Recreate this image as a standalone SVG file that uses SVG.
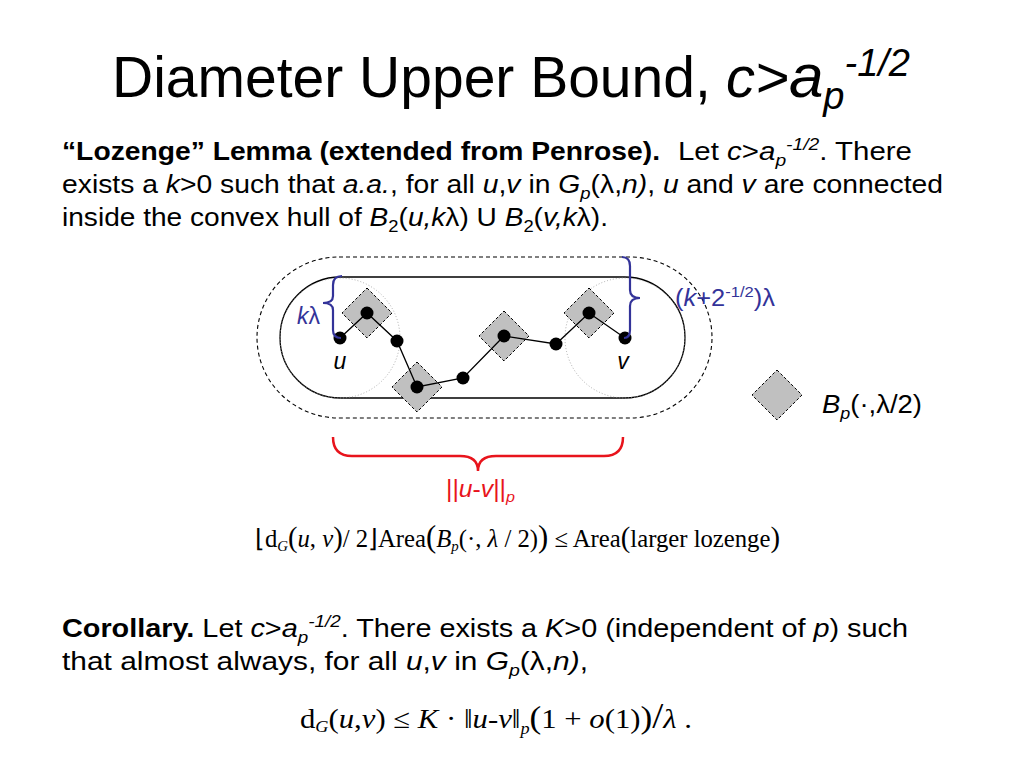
<svg xmlns="http://www.w3.org/2000/svg" width="1024" height="768" viewBox="0 0 1024 768">
<style>
.s{font-family:"Liberation Sans",Arial,sans-serif;fill:#000}
.t{font-family:"Liberation Serif","Times New Roman",serif;fill:#000}
.i{font-style:italic}
.b{font-weight:bold}
.blue{fill:#333399}
.red{fill:#e8141c}
.dot{fill:#000}
.edge{stroke:#000;stroke-width:1.3;fill:none}
.dia{fill:#c0c0c0;stroke:#000;stroke-width:1;stroke-dasharray:3 2}
</style>
<rect width="1024" height="768" fill="#fff"/>

<!-- Title -->
<g id="title">
<text class="s" y="97" font-size="57"><tspan x="112">Diameter Upper Bound,</tspan><tspan x="726" class="i" font-size="58">c&gt;</tspan><tspan class="i" font-size="62">a</tspan><tspan class="i" font-size="38" dy="12">p</tspan><tspan class="i" font-size="38" dy="-33">-1/2</tspan></text>
</g>

<!-- Lemma text -->
<g id="lemma" font-size="26">
<text class="s" x="62" y="160"><tspan class="b" textLength="598" lengthAdjust="spacingAndGlyphs">“Lozenge” Lemma (extended from Penrose).</tspan></text>
<text class="s" x="678" y="160" textLength="234" lengthAdjust="spacingAndGlyphs">Let <tspan class="i">c</tspan>&gt;<tspan class="i">a</tspan><tspan class="i" font-size="17" dy="6">p</tspan><tspan class="i" font-size="17" dy="-16">-1/2</tspan><tspan dy="10">.  There</tspan></text>
<text class="s" x="62" y="193" textLength="881" lengthAdjust="spacingAndGlyphs">exists a <tspan class="i">k</tspan>&gt;0 such that <tspan class="i">a.a.</tspan>, for all <tspan class="i">u</tspan>,<tspan class="i">v</tspan> in <tspan class="i">G</tspan><tspan font-size="17" class="i" dy="6">p</tspan><tspan dy="-6">(λ,</tspan><tspan class="i">n)</tspan>, <tspan class="i">u</tspan> and <tspan class="i">v</tspan> are connected</text>
<text class="s" x="62" y="226" textLength="546" lengthAdjust="spacingAndGlyphs">inside the convex hull of <tspan class="i">B</tspan><tspan font-size="17" dy="6">2</tspan><tspan dy="-6">(</tspan><tspan class="i">u,k</tspan>λ) U <tspan class="i">B</tspan><tspan font-size="17" dy="6">2</tspan><tspan dy="-6">(</tspan><tspan class="i">v,k</tspan>λ).</text>
</g>

<!-- Hulls -->
<g id="outer-hull">
<rect x="257" y="257" width="455" height="161" rx="82" ry="80.5" fill="none" stroke="#000" stroke-width="1.1" stroke-dasharray="4 3"/>
</g>
<g id="inner-hull">
<rect x="280" y="277" width="405" height="121" rx="60.5" ry="60.5" fill="none" stroke="#000" stroke-width="1.3"/>
</g>
<g id="balls">
<circle cx="340" cy="338" r="60" fill="none" stroke="#999" stroke-width="0.8" stroke-dasharray="1 2"/>
<circle cx="625" cy="338" r="60" fill="none" stroke="#999" stroke-width="0.8" stroke-dasharray="1 2"/>
</g>

<!-- Diamonds -->
<g id="lozenges">
<polygon class="dia" points="367,288 392,313 367,338 342,313"/>
<polygon class="dia" points="417,362 442,387 417,412 392,387"/>
<polygon class="dia" points="504,311 529,336 504,361 479,336"/>
<polygon class="dia" points="589,288 614,313 589,338 564,313"/>
</g>

<!-- Connectors -->
<g id="connectors">
<polyline class="edge" points="340,338 367,313 397,341 417,387 463,378 504,336 556,344 589,313 625,338"/>
</g>

<!-- Nodes -->
<g id="node-u"><circle class="dot" cx="340" cy="338" r="6.5"/></g>
<g id="node-1"><circle class="dot" cx="367" cy="313" r="6.5"/></g>
<g id="node-2"><circle class="dot" cx="397" cy="341" r="6.5"/></g>
<g id="node-3"><circle class="dot" cx="417" cy="387" r="6.5"/></g>
<g id="node-4"><circle class="dot" cx="463" cy="378" r="6.5"/></g>
<g id="node-5"><circle class="dot" cx="504" cy="336" r="6.5"/></g>
<g id="node-6"><circle class="dot" cx="556" cy="344" r="6.5"/></g>
<g id="node-7"><circle class="dot" cx="589" cy="313" r="6.5"/></g>
<g id="node-v"><circle class="dot" cx="625" cy="338" r="6.5"/></g>

<g id="labels-uv" font-size="23">
<text class="s i" x="340" y="369" text-anchor="middle">u</text>
<text class="s i" x="623" y="369" text-anchor="middle">v</text>
</g>

<!-- Blue braces -->
<g id="brace-k" fill="none" stroke="#333399" stroke-width="2.2">
<path d="M342,276 Q333,276 333,285 L333,296 Q333,303 323,303 Q333,303 333,310 L333,330 Q333,338 341,338"/>
</g>
<text class="s blue" x="297" y="324" font-size="23"><tspan class="i">k</tspan>λ</text>

<g id="brace-k2" fill="none" stroke="#333399" stroke-width="2.2">
<path d="M622,257 Q630,257 630,266 L630,290 Q630,298 640,298 Q630,298 630,306 L630,330 Q630,338 624,338"/>
</g>
<text class="s blue" x="675" y="306" font-size="23" textLength="100" lengthAdjust="spacingAndGlyphs">(<tspan class="i">k</tspan>+2<tspan font-size="15" dy="-9">-1/2</tspan><tspan dy="9">)λ</tspan></text>

<!-- Legend -->
<g id="legend">
<polygon class="dia" points="777,370 802,395 777,420 752,395"/>
<text class="s" x="822" y="413" font-size="26" textLength="100" lengthAdjust="spacingAndGlyphs"><tspan class="i">B</tspan><tspan class="i" font-size="17" dy="6">p</tspan><tspan dy="-6">(·,λ/2)</tspan></text>
</g>

<!-- Red brace -->
<g id="brace-uv" fill="none" stroke="#e8141c" stroke-width="2.5">
<path d="M333,437 Q333,456 352,456 L460,456 Q478,456 478,471 Q478,456 496,456 L604,456 Q623,456 623,437"/>
</g>
<text class="s red" x="446" y="497" font-size="23" textLength="69" lengthAdjust="spacingAndGlyphs">||<tspan class="i">u</tspan>-<tspan class="i">v</tspan>||<tspan class="i" font-size="15" dy="5">p</tspan></text>

<!-- Formula 1 -->
<g id="formula1">
<text class="t" x="255" y="547" font-size="25" textLength="525" lengthAdjust="spacingAndGlyphs">⌊d<tspan class="i" font-size="15" dy="4">G</tspan><tspan dy="-4" font-size="29">(</tspan><tspan class="i">u</tspan>, <tspan class="i">v</tspan><tspan font-size="29">)</tspan>/ 2⌋Area<tspan font-size="31">(</tspan><tspan class="i">B</tspan><tspan class="i" font-size="15" dy="4">p</tspan><tspan dy="-4">(·, </tspan><tspan class="i">λ</tspan> / 2)<tspan font-size="31">)</tspan> ≤ Area<tspan font-size="29">(</tspan>larger lozenge<tspan font-size="29">)</tspan></text>
</g>

<!-- Corollary -->
<g id="corollary" font-size="26">
<text class="s" x="62" y="637" textLength="846" lengthAdjust="spacingAndGlyphs"><tspan class="b">Corollary.</tspan>  Let <tspan class="i">c</tspan>&gt;<tspan class="i">a</tspan><tspan class="i" font-size="17" dy="6">p</tspan><tspan class="i" font-size="17" dy="-16">-1/2</tspan><tspan dy="10">.  There exists a </tspan><tspan class="i">K</tspan>&gt;0 (independent of <tspan class="i">p</tspan>) such</text>
<text class="s" x="62" y="670" textLength="526" lengthAdjust="spacingAndGlyphs">that almost always, for all <tspan class="i">u</tspan>,<tspan class="i">v</tspan> in <tspan class="i">G</tspan><tspan class="i" font-size="17" dy="6">p</tspan><tspan dy="-6">(λ,</tspan><tspan class="i">n)</tspan>,</text>
</g>

<!-- Formula 2 -->
<g id="formula2">
<text class="t" x="300" y="728" font-size="27" textLength="392" lengthAdjust="spacingAndGlyphs">d<tspan class="i" font-size="16" dy="4">G</tspan><tspan dy="-4">(</tspan><tspan class="i">u</tspan>,<tspan class="i">v</tspan>) ≤ <tspan class="i">K</tspan> · ‖<tspan class="i">u</tspan>-<tspan class="i">v</tspan>‖<tspan class="i" font-size="16" dy="6">p</tspan><tspan dy="-6" font-size="31">(</tspan>1 + <tspan class="i">o</tspan>(1)<tspan font-size="31">)</tspan><tspan font-size="35">/</tspan><tspan class="i">λ</tspan> .</text>
</g>
</svg>
